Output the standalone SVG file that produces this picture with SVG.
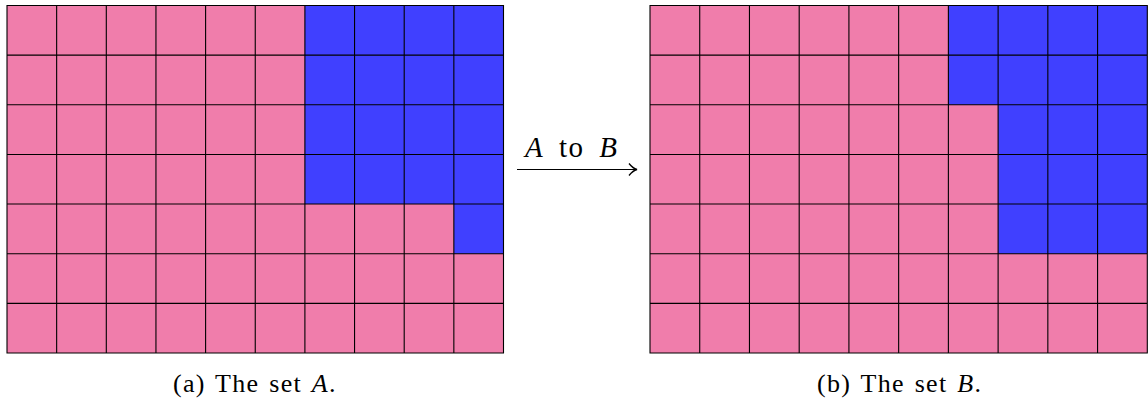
<svg xmlns="http://www.w3.org/2000/svg" width="1148" height="404" viewBox="0 0 1148 404">
<defs>
<style>
.p{fill:#F07DAB}
.b{fill:#4040FF}
.g{stroke:#000;stroke-width:1.1;fill:none}
.t{font-family:"Liberation Serif",serif;fill:#000}
.i{font-style:italic}
.cap{font-size:26px;letter-spacing:1.3px;word-spacing:2px}
.lab{font-size:29px;letter-spacing:1.5px;word-spacing:6px}
</style>
<marker id="ah" viewBox="0 0 10 14" refX="9" refY="7" markerWidth="10" markerHeight="14" markerUnits="userSpaceOnUse" orient="auto">
<path d="M1,1 Q5,6 9,7 Q5,8 1,13" fill="none" stroke="#000" stroke-width="1.3"/>
</marker>
</defs>
<rect width="1148" height="404" fill="#fff"/>
<g id="gridA">
<rect class="p" x="7" y="5.5" width="496.5" height="347.5"/>
<path class="b" d="M304.9,5.5H503.5V253.8H454V204.1H304.9Z"/>
<path class="g" d="M7,5.5H503.5V353H7Z M56.65,5.5V353 M106.3,5.5V353 M155.95,5.5V353 M205.6,5.5V353 M255.25,5.5V353 M304.9,5.5V353 M354.55,5.5V353 M404.2,5.5V353 M453.85,5.5V353 M7,55.14H503.5 M7,104.79H503.5 M7,154.43H503.5 M7,204.07H503.5 M7,253.71H503.5 M7,303.36H503.5"/>
</g>
<g id="gridB">
<rect class="p" x="650" y="5.5" width="497.3" height="347.5"/>
<path class="b" d="M948.4,5.5H1147.3V253.7H998.1V104.8H948.4Z"/>
<path class="g" d="M650,5.5H1147.3V353H650Z M699.73,5.5V353 M749.46,5.5V353 M799.19,5.5V353 M848.92,5.5V353 M898.65,5.5V353 M948.38,5.5V353 M998.11,5.5V353 M1047.84,5.5V353 M1097.57,5.5V353 M650,55.14H1147.3 M650,104.79H1147.3 M650,154.43H1147.3 M650,204.07H1147.3 M650,253.71H1147.3 M650,303.36H1147.3"/>
</g>
<g id="connectors">
<line x1="517" y1="169.5" x2="637" y2="169.5" stroke="#000" stroke-width="1.2" marker-end="url(#ah)"/>
<text class="t lab" x="525" y="157"><tspan class="i">A</tspan> to <tspan class="i">B</tspan></text>
</g>
<text class="t cap" x="173" y="392">(a) The set <tspan class="i">A</tspan>.</text>
<text class="t cap" x="817" y="392">(b) The set <tspan class="i">B</tspan>.</text>
</svg>
